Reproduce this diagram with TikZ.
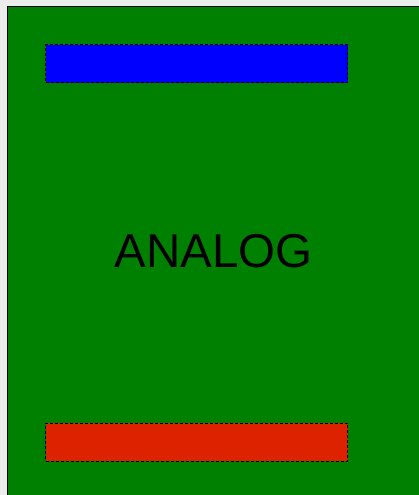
\documentclass[tikz,border=0pt]{standalone}
\usepackage{fontspec}
\setmainfont{Liberation Sans}
\definecolor{bggray}{HTML}{ECECEC}
\definecolor{boardgreen}{HTML}{008000}
\definecolor{stripred}{HTML}{DD2200}
\definecolor{stripblue}{HTML}{0000FF}
\begin{document}
\begin{tikzpicture}[x=1pt,y=-1pt,
  strip/.style={draw=black,dashed,dash pattern=on 3pt off 2pt,line width=0.8pt}]
\useasboundingbox (0,0) rectangle (419,495);
\fill[bggray] (0,0) rectangle (419,495);
\begin{scope}
\clip (0,0) rectangle (419,495);
\filldraw[fill=boardgreen,draw=black,line width=1pt] (7.5,6.5) rectangle (425,500);
\end{scope}
\node[strip,fill=stripblue,minimum width=302pt,minimum height=38pt,inner sep=0pt,anchor=north west] (blue) at (45.3,44.3) {};
\node[strip,fill=stripred,minimum width=302pt,minimum height=38pt,inner sep=0pt,anchor=north west] (red) at (45.3,422.5) {};
\node[font=\fontsize{47.5pt}{50pt}\selectfont,inner sep=0pt,anchor=base] (label) at (213.5,267.7) {ANALOG};
\end{tikzpicture}
\end{document}
